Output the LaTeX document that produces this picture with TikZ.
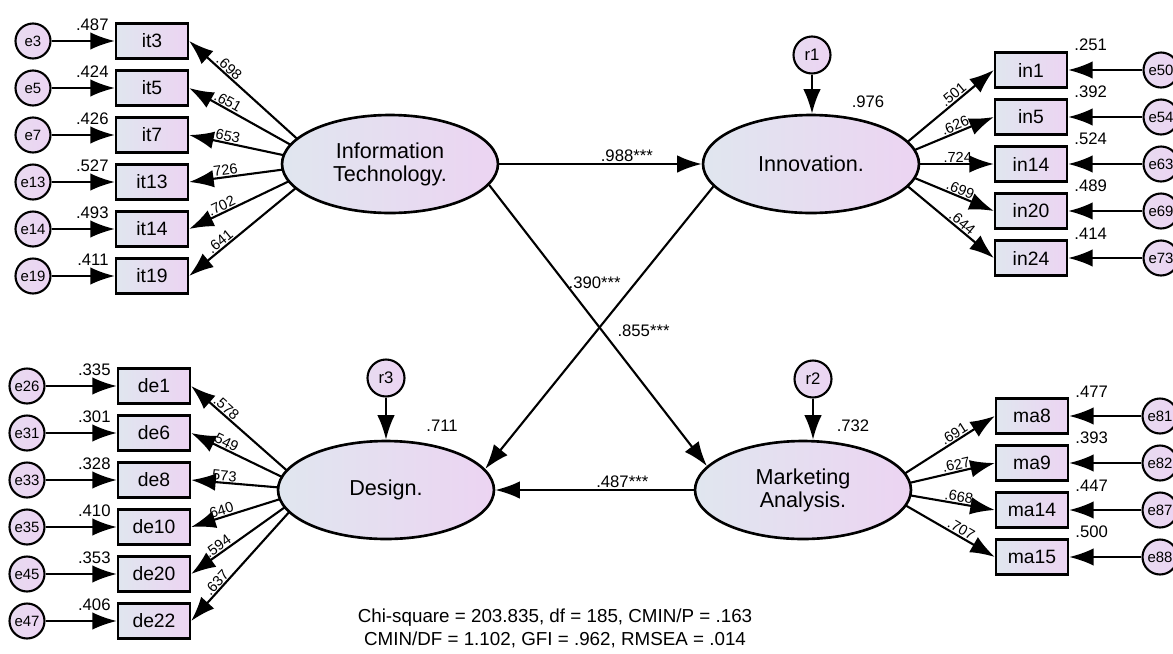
\documentclass[tikz,border=0pt]{standalone}
\usepackage{fontspec}
\setmainfont{Liberation Sans}
\usetikzlibrary{arrows.meta,calc,backgrounds,positioning,shapes.geometric}

\definecolor{shadeL}{RGB}{224,230,239}
\definecolor{shadeR}{RGB}{236,212,242}

\tikzset{
  obs/.style={draw,line width=1.3pt,left color=shadeL,right color=shadeR,
    minimum width=1.44cm,minimum height=0.7cm,inner sep=0pt,font=\fontsize{11}{13}\selectfont},
  lat/.style={ellipse,draw,line width=1.5pt,left color=shadeL,right color=shadeR,
    minimum width=4.32cm,minimum height=1.96cm,inner sep=0pt,align=center,font=\fontsize{12.3}{13}\selectfont},
  err/.style={circle,draw,line width=1.2pt,left color=shadeL!35!shadeR,right color=shadeR,
    minimum size=0.7cm,inner sep=0pt,font=\fontsize{8.5}{9}\selectfont},
  res/.style={err,minimum size=0.74cm,font=\fontsize{9.5}{10}\selectfont},
  pth/.style={-{Latex[length=14pt,width=10pt]},line width=1.2pt},
  sq/.style={inner sep=1pt,font=\fontsize{9.5}{10}\selectfont},
  ld/.style={inner sep=0.5pt,font=\fontsize{8.3}{9}\selectfont},
}

\begin{document}
\begin{tikzpicture}[x=0.02cm,y=-0.02cm]
    \useasboundingbox (0,0) rectangle (1173,653);
    % latent variables
    \node[lat] (IT) at (390,164) {Information\\Technology.};
    \node[lat] (IN) at (811,164) {Innovation.};
    \node[lat] (DE) at (386,490) {Design.};
    \node[lat] (MA) at (803,490) {Marketing\\Analysis.};
    \coordinate (ITf) at ($(IT)+(-65,0)$);
    \coordinate (INf) at ($(IN)+(70,0)$);
    \coordinate (DEf) at ($(DE)+(-77,0)$);
    \coordinate (MAf) at ($(MA)+(76,0)$);
    % left indicators
    \foreach \nm/\er/\yy/\rr/\lv in {it3/e3/41/.487/.698,it5/e5/88/.424/.651,it7/e7/135/.426/.653,
        it13/e13/182/.527/.726,it14/e14/229/.493/.702,it19/e19/276/.411/.641}{
        \node[obs] (\nm) at (152,\yy) {\nm};
        \node[err] (\er) at (33,\yy) {\er};
        \draw[pth] (\er) -- (\nm);
        \node[sq,anchor=south east] (sq\nm) at ([xshift=-2.4pt,yshift=4.7pt]\nm.west) {\rr};
        \begin{pgfonlayer}{background}
            \draw[pth] (ITf) -- (\nm.east) node[ld,sloped,above,pos=0.74] (ld\nm) {\lv};
        \end{pgfonlayer}
    }
    \foreach \nm/\er/\yy/\rr/\lv in {de1/e26/386/.335/.578,de6/e31/433/.301/.549,de8/e33/480/.328/.573,
        de10/e35/527/.410/.640,de20/e45/574/.353/.594,de22/e47/621/.406/.637}{
        \node[obs] (\nm) at (154,\yy) {\nm};
        \node[err] (\er) at (27,\yy) {\er};
        \draw[pth] (\er) -- (\nm);
        \node[sq,anchor=south east] (sq\nm) at ([xshift=-2.4pt,yshift=4.7pt]\nm.west) {\rr};
        \begin{pgfonlayer}{background}
            \draw[pth] (DEf) -- (\nm.east) node[ld,sloped,above,pos=0.74] (ld\nm) {\lv};
        \end{pgfonlayer}
    }
    % right indicators
    \foreach \nm/\er/\yy/\rr/\lv in {in1/e50/70/.251/.501,in5/e54/117/.392/.626,in14/e63/164/.524/.724,
        in20/e69/211/.489/.699,in24/e73/258/.414/.644}{
        \node[obs] (\nm) at (1031,\yy) {\nm};
        \node[err] (\er) at (1161,\yy) {\er};
        \draw[pth] (\er) -- (\nm);
        \node[sq,anchor=south west] (sq\nm) at ([xshift=2.4pt,yshift=-1pt]\nm.north east) {\rr};
        \begin{pgfonlayer}{background}
            \draw[pth] (INf) -- (\nm.west) node[ld,sloped,above,pos=0.68] (ld\nm) {\lv};
        \end{pgfonlayer}
    }
    \foreach \nm/\er/\yy/\rr/\lv in {ma8/e81/416/.477/.691,ma9/e82/463/.393/.627,
        ma14/e87/510/.447/.668,ma15/e88/557/.500/.707}{
        \node[obs] (\nm) at (1032,\yy) {\nm};
        \node[err] (\er) at (1160,\yy) {\er};
        \draw[pth] (\er) -- (\nm);
        \node[sq,anchor=south west] (sq\nm) at ([xshift=2.4pt,yshift=-1pt]\nm.north east) {\rr};
        \begin{pgfonlayer}{background}
            \draw[pth] (MAf) -- (\nm.west) node[ld,sloped,above,pos=0.68] (ld\nm) {\lv};
        \end{pgfonlayer}
    }
    % residuals
    \node[res] (r1) at (812,55) {r1};
    \node[res] (r3) at (386,378) {r3};
    \node[res] (r2) at (813,379) {r2};
    \draw[pth] (r1) -- (r1 |- IN.north);
    \draw[pth] (r3) -- (r3 |- DE.north);
    \draw[pth] (r2) -- (r2 |- MA.north);
    \node[sq] (vIN) at ($(IN.north)+(57,-12)$) {.976};
    \node[sq] (vDE) at ($(DE.north)+(56,-14)$) {.711};
    \node[sq] (vMA) at ($(MA.north)+(50,-14)$) {.732};
    % structural paths
    \draw[pth] (IT) -- (IN) node[sq,above,pos=0.63] (b1) {.988***};
    \draw[pth] (IT.-12) -- (MA.166) node[sq,right=7pt,pos=0.52] (b2) {.855***};
    \draw[pth] (IN.-167) -- (DE.12) node[sq,left=7pt,pos=0.34] (b3) {.390***};
    \draw[pth] (MA) -- (DE) node[sq,above,pos=0.36] (b4) {.487***};
    % fit indices
    \node[align=center,font=\fontsize{10.7}{13}\selectfont] (fit) at (555,628)
        {Chi-square = 203.835, df = 185, CMIN/P = .163\\CMIN/DF = 1.102, GFI = .962, RMSEA = .014};
\end{tikzpicture}
\end{document}
